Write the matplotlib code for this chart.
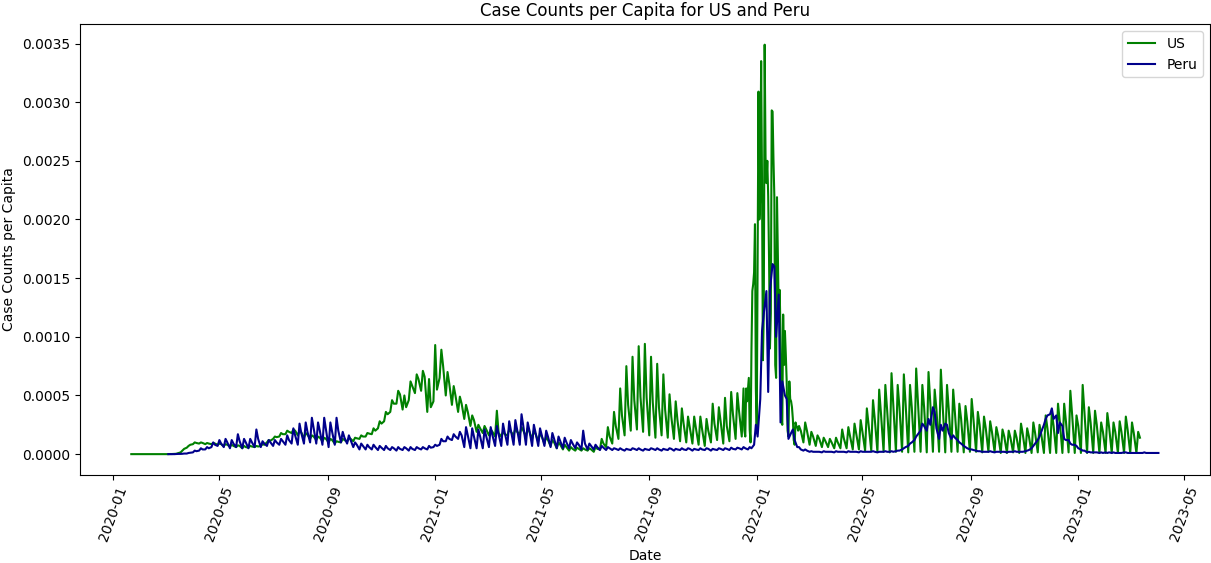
import numpy as np
import pandas as pd
import matplotlib
matplotlib.use("Agg")
import matplotlib.pyplot as plt

# Weekly readings in cases per 10,000 people.
# *_WEEK_START: first day of each week, *_MIDWEEK: two days later, *_LATE_WEEK: four days later.
US_FIRST_WEEK = '2020-01-22'
US_WEEK_START = [
    0, 0, 0, 0, 0, 0, 0, 0.02, 0.15, 0.55,
    0.85, 0.9, 0.85, 0.85, 0.8, 0.7, 0.65, 0.6, 0.5, 0.55,
    0.6, 0.7, 1.0, 1.3, 1.5, 1.7, 1.8, 1.6, 1.4, 1.3,
    1.2, 1.1, 1.0, 0.9, 1.0, 1.05, 1.1, 1.3, 1.5, 1.7,
    2.2, 2.8, 3.6, 4.3, 3.8, 4.6, 5.2, 5.4, 3.6, 4.5,
    6.5, 5.0, 4.2, 3.6, 3.0, 2.4, 1.9, 1.8, 1.6, 1.5,
    1.5, 1.6, 1.6, 1.7, 1.5, 1.3, 1.1, 0.9, 0.7, 0.5,
    0.4, 0.3, 0.3, 0.3, 0.3, 0.2, 0.4, 0.6, 0.9, 1.3,
    1.6, 2.0, 2.1, 1.9, 1.6, 1.4, 1.6, 1.4, 1.3, 1.1,
    1.0, 0.9, 0.8, 0.7, 1.0, 1.2, 0.9, 1.1, 1.3, 1.5,
    2.1, 15.0, 31.0, 25.3, 29.3, 21.9, 11.9, 4.7, 2.7, 1.0,
    0.8, 0.7, 0.6, 0.6, 0.5, 0.5, 0.5, 0.4, 0.4, 0.3,
    0.3, 0.2, 0.2, 0.15, 0.2, 0.2, 0.15, 0.2, 0.2, 0.15,
    0.2, 0.2, 0.15, 0.2, 0.2, 0.15, 0.2, 0.2, 0.15, 0.2,
    0.2, 0.1, 0.1, 0.15, 0.1, 0.1, 0.1, 0.15, 0.1, 0.1,
    0.1, 0.1, 0.15, 0.1, 0.1, 0.1, 0.1, 0.1, 0.1, 0.1,
    0.1, 0.1, 0.1, 0.1,
]
US_MIDWEEK = [
    0, 0, 0, 0, 0, 0, 0.01, 0.03, 0.3, 0.7,
    1.0, 1.0, 0.95, 0.95, 0.9, 0.85, 0.8, 0.75, 0.7, 0.7,
    0.7, 0.85, 1.2, 1.5, 1.8, 2.0, 2.1, 2.0, 1.8, 1.6,
    1.5, 1.4, 1.3, 1.1, 1.3, 1.35, 1.4, 1.6, 1.8, 2.2,
    2.8, 3.6, 4.6, 5.4, 5.0, 6.2, 6.8, 7.1, 6.4, 9.3,
    8.9, 7.0, 5.8, 4.9, 4.2, 3.3, 2.5, 2.4, 2.1, 3.7,
    1.9, 2.1, 2.2, 2.3, 2.2, 2.0, 1.8, 1.5, 1.2, 1.0,
    0.8, 0.6, 0.55, 0.5, 0.5, 0.6, 1.3, 2.3, 3.6, 5.6,
    7.5, 8.3, 9.2, 9.4, 8.3, 7.7, 6.8, 5.1, 4.5, 3.9,
    3.2, 3.2, 3.2, 3.0, 4.3, 4.0, 4.8, 5.3, 5.2, 5.6,
    8.8, 19.6, 33.5, 20.0, 29.2, 7.6, 7.6, 6.2, 2.4, 2.7,
    1.9, 1.6, 1.4, 1.3, 1.4, 2.1, 2.3, 2.6, 2.9, 3.9,
    4.6, 5.5, 5.9, 6.9, 5.9, 6.8, 5.9, 7.3, 5.9, 7.0,
    5.5, 7.2, 5.9, 5.5, 4.3, 4.1, 4.7, 3.6, 3.2, 2.8,
    2.3, 2.1, 2.0, 2.0, 2.6, 2.2, 2.7, 2.5, 3.3, 3.6,
    4.3, 4.3, 5.4, 3.3, 5.9, 4.0, 3.7, 2.7, 3.5, 2.7,
    2.8, 3.2, 2.7, 1.9,
]
US_LATE_WEEK = [
    0, 0, 0, 0, 0, 0, 0.01, 0.08, 0.45, 0.8,
    0.95, 0.95, 0.9, 0.9, 0.85, 0.8, 0.7, 0.7, 0.6, 0.65,
    0.65, 0.8, 1.15, 1.45, 1.7, 1.9, 2.0, 1.85, 1.65, 1.5,
    1.4, 1.3, 1.2, 1.05, 1.2, 1.3, 1.35, 1.5, 1.75, 2.0,
    2.6, 3.4, 4.3, 5.1, 4.0, 5.8, 6.4, 6.6, 4.0, 5.5,
    7.5, 6.0, 5.0, 4.3, 3.6, 2.9, 2.2, 2.1, 1.9, 1.8,
    1.7, 1.9, 1.9, 2.0, 1.9, 1.7, 1.5, 1.2, 1.0, 0.8,
    0.6, 0.45, 0.45, 0.4, 0.4, 0.45, 0.9, 1.5, 2.4, 3.3,
    4.2, 4.6, 4.9, 4.8, 4.4, 4.0, 3.8, 3.2, 2.9, 2.6,
    2.3, 2.2, 2.1, 2.0, 2.6, 2.8, 2.4, 3.4, 3.6, 4.2,
    13.9, 5.6, 34.9, 16.5, 25.1, 21.9, 10.5, 3.5, 2.0, 2.0,
    1.5, 1.3, 1.1, 1.0, 1.0, 1.3, 1.5, 1.7, 1.9, 2.5,
    3.0, 3.5, 3.8, 4.2, 4.0, 4.3, 4.0, 4.5, 4.0, 4.4,
    3.8, 4.2, 3.8, 3.5, 3.0, 2.8, 3.0, 2.5, 2.2, 1.9,
    1.6, 1.5, 1.4, 1.4, 1.7, 1.5, 1.8, 1.7, 2.2, 2.4,
    2.8, 2.8, 3.4, 2.4, 3.6, 2.7, 2.5, 1.9, 2.3, 1.9,
    1.9, 2.1, 1.8, 1.4,
]

# Omicron wave, day by day (cases per 10,000 people)
US_OMICRON_FIRST_DAY = '2021-12-18'
US_OMICRON_DAILY = [
    2.0, 1.5, 5.6, 4.5, 5.5, 6.5, 2.1, 1.0, 8.8, 13.9, 14.5, 15.5, 19.6, 5.6,
    2.0, 16.0, 30.9, 20.0, 22.0, 33.5, 23.1, 8.0, 12.0, 34.9, 25.3, 23.1, 25.0, 22.0,
    16.5, 9.0, 12.0, 29.3, 29.2, 25.1, 21.9, 7.6, 6.5, 21.9, 16.7, 11.9, 14.0, 10.5,
    3.0, 2.5, 11.9,
    7.6, 10.5, 8.5, 6.2, 2.0, 1.5, 6.2, 4.7, 4.5, 4.0, 3.0, 1.2, 0.8, 2.7, 2.4,
    2.3, 2.0,
]

PERU_FIRST_WEEK = '2020-03-04'
PERU_WEEK_START = [
    0, 0, 0.02, 0.05, 0.15, 0.3, 0.4, 0.6, 0.7, 0.6,
    0.5, 0.6, 0.5, 0.5, 0.6, 0.6, 0.7, 0.7, 0.8, 0.8,
    0.9, 0.8, 0.9, 1.0, 0.9, 0.8, 0.6, 0.8, 1.0, 0.9,
    0.6, 0.4, 0.4, 0.4, 0.35, 0.35, 0.35, 0.3, 0.35, 0.3,
    0.35, 0.4, 0.4, 0.6, 0.8, 1.1, 1.2, 1.3, 0.6, 0.5,
    0.5, 0.5, 0.6, 0.7, 0.7, 0.8, 0.8, 0.8, 0.8, 0.7,
    0.7, 0.7, 0.6, 0.5, 0.5, 0.5, 0.5, 0.4, 0.4, 0.4,
    0.35, 0.35, 0.35, 0.35, 0.3, 0.35, 0.35, 0.3, 0.35, 0.35,
    0.3, 0.35, 0.3, 0.35, 0.35, 0.3, 0.35, 0.35, 0.3, 0.35,
    0.35, 0.35, 0.4, 0.4, 0.4, 0.8, 4.7, 13.9, 16.2, 13.6,
    5.0, 1.8, 0.6, 0.3, 0.2, 0.2, 0.15, 0.2, 0.15, 0.2,
    0.15, 0.2, 0.15, 0.2, 0.2, 0.15, 0.2, 0.2, 0.25, 0.4,
    0.7, 1.2, 2.0, 2.0, 4.0, 1.3, 2.6, 1.3, 1.2, 0.7,
    0.4, 0.3, 0.2, 0.2, 0.15, 0.2, 0.15, 0.2, 0.2, 0.25,
    0.5, 1.2, 2.5, 3.4, 3.3, 2.4, 1.2, 0.8, 0.4, 0.15,
    0.15, 0.1, 0.15, 0.1, 0.1, 0.15, 0.1, 0.1, 0.1, 0.1,
    0.1,
]
PERU_MIDWEEK = [
    0, 0.01, 0.03, 0.1, 0.3, 0.5, 0.6, 1.0, 1.2, 1.3,
    1.2, 1.7, 1.3, 1.3, 2.1, 1.1, 1.2, 1.2, 1.3, 1.6,
    2.2, 2.6, 2.7, 3.1, 2.7, 3.1, 2.7, 3.1, 1.9, 1.6,
    1.0, 0.9, 0.8, 0.8, 0.7, 0.7, 0.6, 0.6, 0.6, 0.6,
    0.6, 0.6, 0.7, 0.8, 1.3, 1.5, 1.7, 1.9, 2.3, 2.2,
    2.1, 2.1, 2.3, 2.4, 2.6, 2.8, 2.9, 3.4, 2.7, 2.5,
    2.2, 2.0, 1.8, 1.5, 1.4, 1.2, 1.0, 2.0, 0.9, 0.8,
    0.7, 0.6, 0.5, 0.5, 0.45, 0.5, 0.5, 0.45, 0.5, 0.5,
    0.45, 0.5, 0.45, 0.5, 0.5, 0.45, 0.5, 0.5, 0.45, 0.5,
    0.5, 0.55, 0.55, 0.6, 0.6, 2.5, 10.5, 5.3, 16.0, 2.7,
    4.7, 2.1, 0.6, 0.4, 0.25, 0.2, 0.25, 0.2, 0.25, 0.2,
    0.25, 0.2, 0.25, 0.2, 0.25, 0.2, 0.25, 0.25, 0.3, 0.5,
    0.9, 1.5, 2.6, 3.0, 3.6, 2.5, 2.5, 1.6, 1.0, 0.6,
    0.4, 0.25, 0.2, 0.25, 0.2, 0.2, 0.2, 0.25, 0.2, 0.3,
    0.7, 1.5, 3.0, 3.9, 1.8, 1.3, 0.9, 0.7, 0.3, 0.2,
    0.15, 0.15, 0.1, 0.15, 0.1, 0.15, 0.1, 0.1, 0.15, 0.1,
    0.1,
]
PERU_LATE_WEEK = [
    0, 0.02, 0.05, 0.12, 0.25, 0.4, 0.5, 0.8, 0.9, 1.0,
    0.9, 1.1, 1.0, 1.0, 1.3, 0.9, 1.0, 1.0, 1.1, 1.2,
    1.6, 1.8, 1.9, 2.2, 2.0, 2.1, 1.9, 2.0, 1.4, 1.2,
    0.8, 0.7, 0.6, 0.6, 0.55, 0.5, 0.5, 0.45, 0.5, 0.45,
    0.5, 0.5, 0.55, 0.7, 1.1, 1.3, 1.5, 1.6, 1.6, 1.5,
    1.5, 1.5, 1.6, 1.7, 1.8, 2.0, 2.1, 2.4, 2.0, 1.8,
    1.6, 1.5, 1.3, 1.1, 1.0, 0.9, 0.8, 0.9, 0.7, 0.6,
    0.55, 0.5, 0.45, 0.4, 0.4, 0.45, 0.4, 0.4, 0.45, 0.4,
    0.4, 0.45, 0.4, 0.4, 0.45, 0.4, 0.4, 0.45, 0.4, 0.45,
    0.45, 0.45, 0.5, 0.5, 0.5, 1.5, 12.0, 14.0, 10.0, 6.2,
    1.3, 1.2, 0.4, 0.3, 0.2, 0.2, 0.2, 0.2, 0.2, 0.2,
    0.2, 0.2, 0.2, 0.2, 0.2, 0.2, 0.2, 0.2, 0.3, 0.6,
    1.0, 1.7, 2.4, 2.5, 2.2, 2.0, 1.8, 1.4, 0.9, 0.5,
    0.35, 0.25, 0.2, 0.2, 0.2, 0.2, 0.2, 0.2, 0.2, 0.35,
    0.9, 1.9, 3.3, 3.0, 2.7, 1.2, 0.8, 0.5, 0.3, 0.15,
    0.15, 0.1, 0.15, 0.1, 0.1, 0.1, 0.1, 0.1, 0.1, 0.1,
    0.1,
]


def weekly_series(first_week, *per_day):
    # per_day: value lists for day 0, day 2 and day 4 of each week
    n = len(per_day[0])
    assert all(len(v) == n for v in per_day)
    weeks = pd.date_range(first_week, periods=n, freq='7D')
    offsets = [0, 2, 4][:len(per_day)]
    parts = [pd.Series(np.asarray(v, dtype=float), index=weeks + pd.Timedelta(days=d))
             for d, v in zip(offsets, per_day)]
    return pd.concat(parts).sort_index()


def splice_daily(series, first_day, daily):
    days = pd.date_range(first_day, periods=len(daily), freq='D')
    inner = pd.Series(np.asarray(daily, dtype=float), index=days)
    outside = series[(series.index < days[0]) | (series.index > days[-1])]
    return pd.concat([outside, inner]).sort_index()


us = weekly_series(US_FIRST_WEEK, US_WEEK_START, US_MIDWEEK, US_LATE_WEEK)
us = splice_daily(us, US_OMICRON_FIRST_DAY, US_OMICRON_DAILY) / 1e4
peru = weekly_series(PERU_FIRST_WEEK, PERU_WEEK_START, PERU_MIDWEEK, PERU_LATE_WEEK) / 1e4

fig = plt.figure(figsize=(12.11, 5.63), dpi=100)
ax = fig.add_axes([0.066, 0.157, 0.933, 0.8])
ax.plot(us.index, us.values, color='green', label='US')
ax.plot(peru.index, peru.values, color='darkblue', label='Peru')
ax.set_title('Case Counts per Capita for US and Peru')
ax.set_xlabel('Date')
ax.set_ylabel('Case Counts per Capita')
ax.legend(loc='upper right')
plt.setp(ax.get_xticklabels(), rotation=70)
fig.savefig('out.png', dpi=100)
